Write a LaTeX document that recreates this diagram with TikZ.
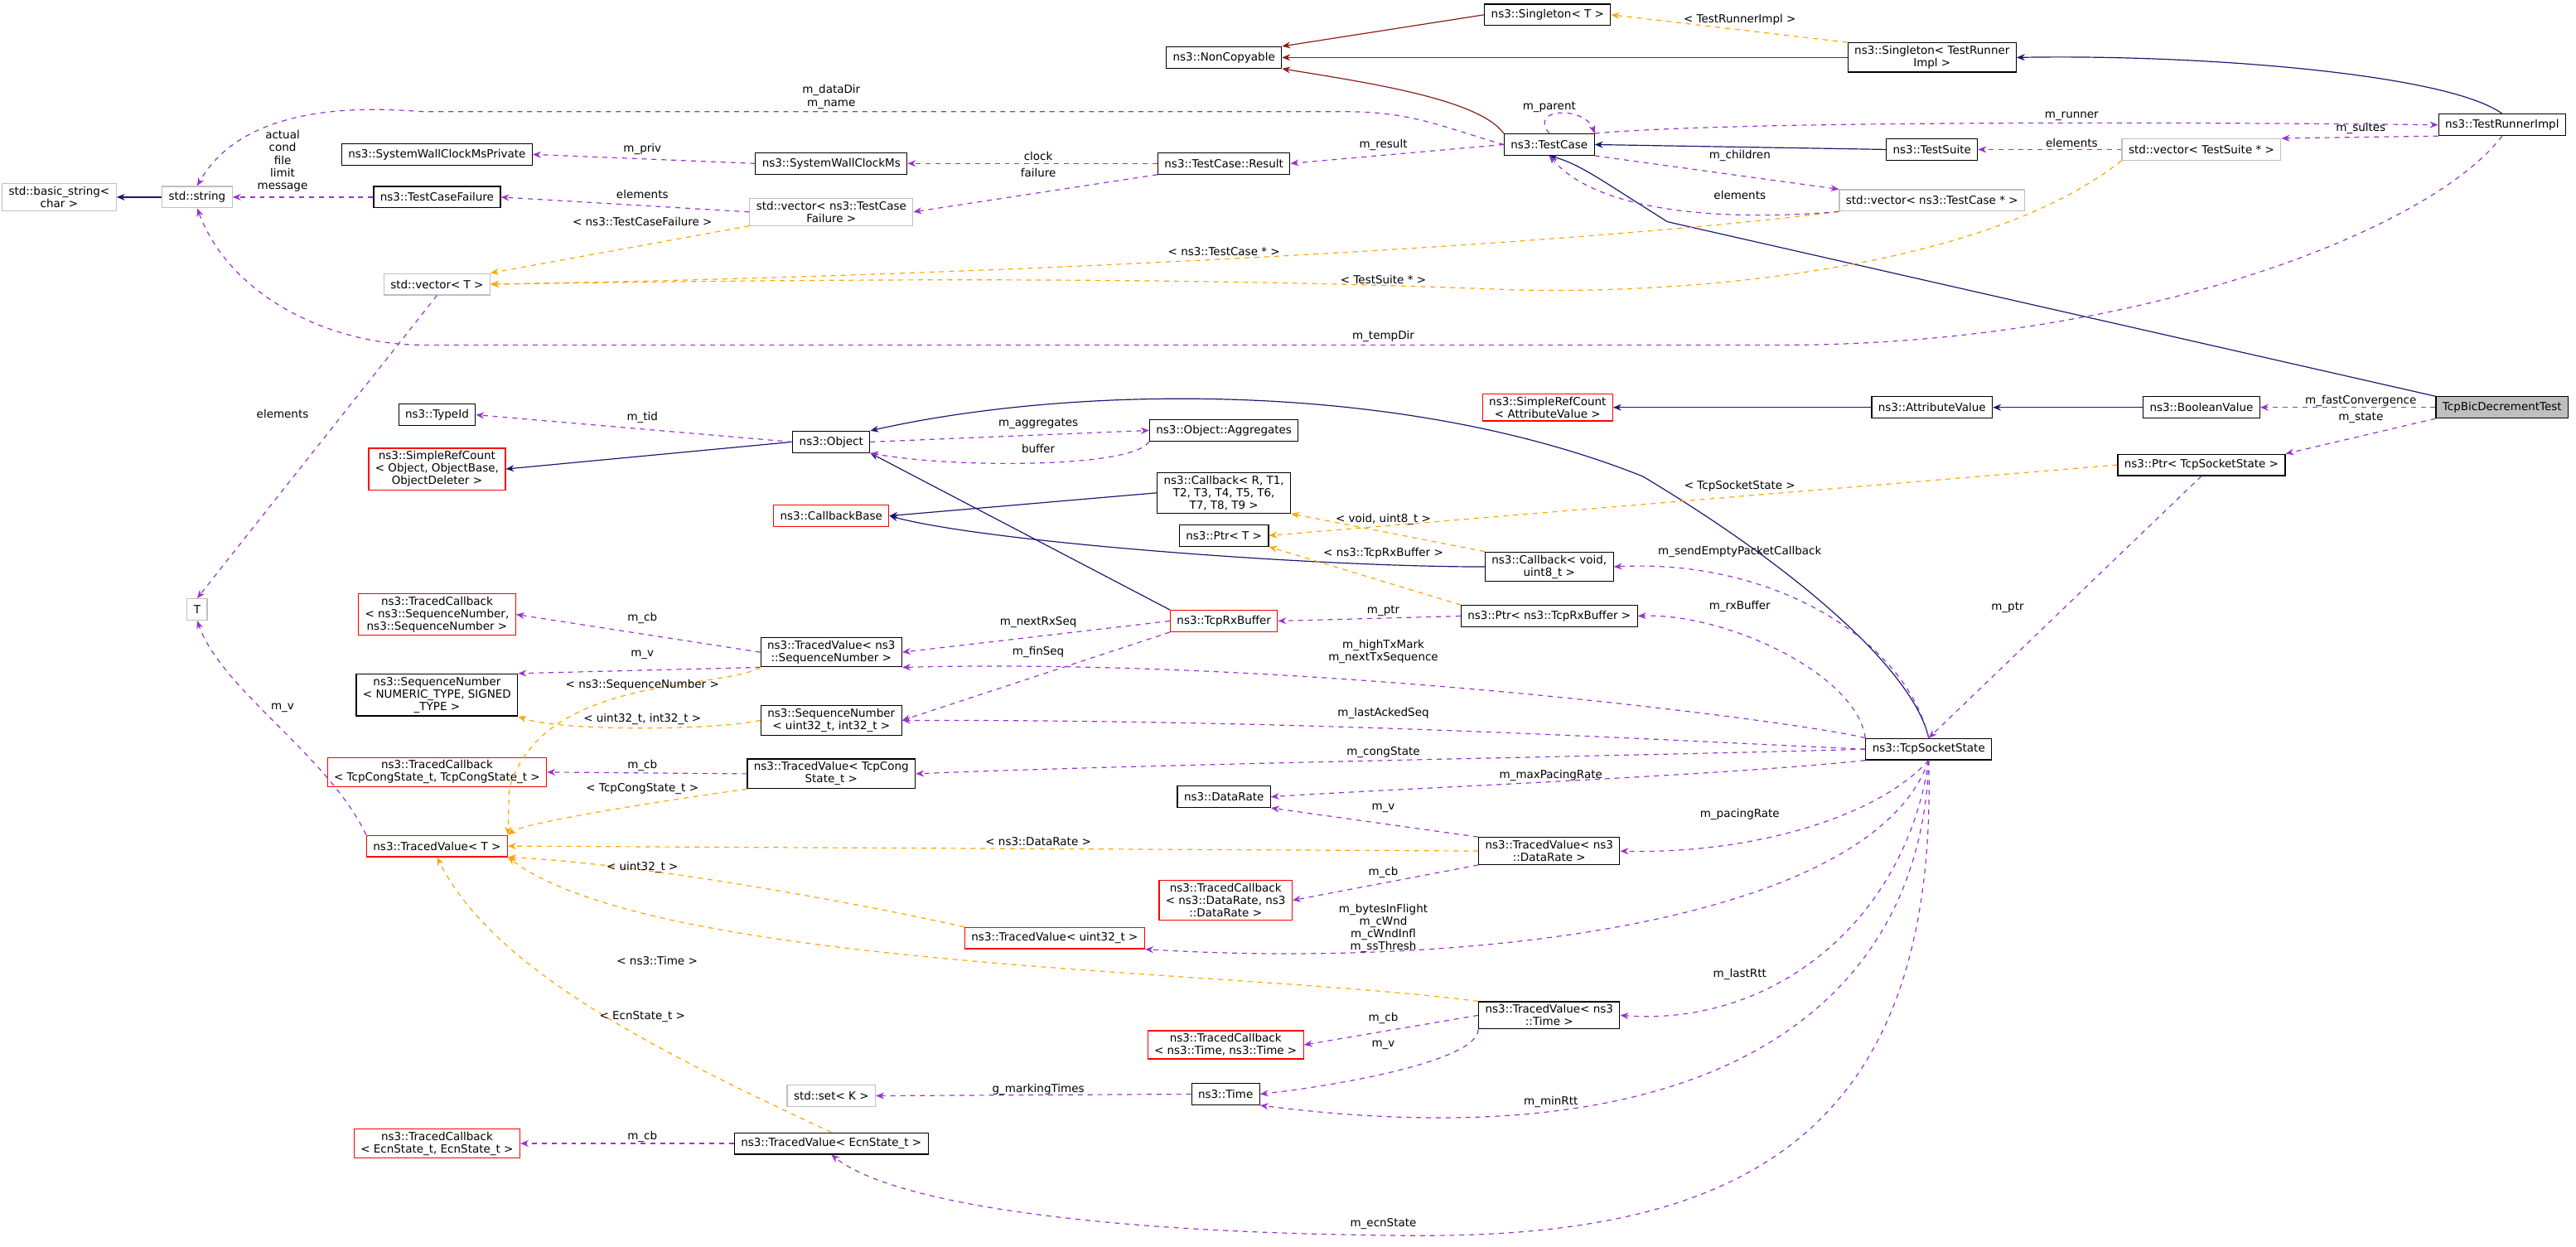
\documentclass[tikz,border=0pt]{standalone}
\usepackage{fontspec}
\setmainfont{DejaVu Sans}
\usetikzlibrary{arrows.meta}
\definecolor{inhc}{HTML}{191970}
\definecolor{ncc}{HTML}{8B1A1A}
\definecolor{usec}{HTML}{9A32CD}
\definecolor{tmc}{HTML}{FFA500}
\definecolor{grayb}{HTML}{BFBFBF}
\begin{document}
\begin{tikzpicture}[x=1pt,y=-1pt,
  every node/.style={font=\fontsize{6.8}{7.6}\selectfont},
  cls/.style={draw=black,fill=white,inner xsep=4pt,inner ysep=1.8pt,minimum height=13pt,align=center,line width=0.6pt},
  rcls/.style={cls,draw=red},
  gcls/.style={cls,draw=grayb},
  lbl/.style={inner sep=0.5pt,align=center},
  tip/.style={-{Stealth[length=5pt,width=4pt]}},
  inh/.style={tip,draw=inhc,line width=0.6pt},
  ncp/.style={tip,draw=ncc,line width=0.6pt},
  use/.style={tip,draw=usec,dashed,line width=0.6pt},
  tmpl/.style={tip,draw=tmc,dashed,line width=0.6pt}]
\useasboundingbox (0,0) rectangle (1568,759);
% nodes
\node[cls] (sgT) at (942,9) {ns3::Singleton< T >};
\node[cls] (nonc) at (745,35) {ns3::NonCopyable};
\node[cls] (sgTR) at (1176,35) {ns3::Singleton< TestRunner\\Impl >};
\node[cls] (tri) at (1523,76) {ns3::TestRunnerImpl};
\node[cls] (tc) at (943,88) {ns3::TestCase};
\node[cls] (ts) at (1176,91) {ns3::TestSuite};
\node[gcls] (vts) at (1340,91) {std::vector< TestSuite * >};
\node[cls] (tcr) at (745,99.5) {ns3::TestCase::Result};
\node[cls] (swc) at (506,99.5) {ns3::SystemWallClockMs};
\node[cls] (swcp) at (266,94) {ns3::SystemWallClockMsPrivate};
\node[gcls] (bstr) at (36,120) {std::basic\_string<\\char >};
\node[gcls] (str) at (120,120) {std::string};
\node[cls] (tcf) at (266,120) {ns3::TestCaseFailure};
\node[gcls] (vtcf) at (506,129) {std::vector< ns3::TestCase\\Failure >};
\node[gcls] (vtc) at (1176,122) {std::vector< ns3::TestCase * >};
\node[gcls] (vT) at (266,173) {std::vector< T >};
\node[cls] (tid) at (266,252.5) {ns3::TypeId};
\node[rcls] (srco) at (266,285.5) {ns3::SimpleRefCount\\< Object, ObjectBase,\\ObjectDeleter >};
\node[cls] (obj) at (506,269) {ns3::Object};
\node[cls] (agg) at (745,262) {ns3::Object::Aggregates};
\node[rcls] (srca) at (942,248) {ns3::SimpleRefCount\\< AttributeValue >};
\node[cls] (av) at (1176,248) {ns3::AttributeValue};
\node[cls] (bv) at (1340,248) {ns3::BooleanValue};
\node[cls,fill=grayb] (bic) at (1523,248) {TcpBicDecrementTest};
\node[cls] (ptss) at (1340,283) {ns3::Ptr< TcpSocketState >};
\node[cls] (cbr) at (745,300) {ns3::Callback< R, T1,\\T2, T3, T4, T5, T6,\\T7, T8, T9 >};
\node[rcls] (cbb) at (506,314) {ns3::CallbackBase};
\node[cls] (ptrT) at (745,326) {ns3::Ptr< T >};
\node[cls] (cbv) at (943,345) {ns3::Callback< void,\\uint8\_t >};
\node[gcls] (T) at (120,371) {T};
\node[rcls] (tcsn) at (266,374) {ns3::TracedCallback\\< ns3::SequenceNumber,\\ns3::SequenceNumber >};
\node[cls] (tvsn) at (506,397) {ns3::TracedValue< ns3\\::SequenceNumber >};
\node[rcls] (rxb) at (745,378) {ns3::TcpRxBuffer};
\node[cls] (prxb) at (943,375) {ns3::Ptr< ns3::TcpRxBuffer >};
\node[cls] (snN) at (266,423) {ns3::SequenceNumber\\< NUMERIC\_TYPE, SIGNED\\\_TYPE >};
\node[cls] (sn32) at (506,438.5) {ns3::SequenceNumber\\< uint32\_t, int32\_t >};
\node[rcls] (tccs) at (266,470) {ns3::TracedCallback\\< TcpCongState\_t, TcpCongState\_t >};
\node[cls] (tvcs) at (506,471) {ns3::TracedValue< TcpCong\\State\_t >};
\node[cls] (tss) at (1174,456) {ns3::TcpSocketState};
\node[cls] (dr) at (745,485) {ns3::DataRate};
\node[rcls] (tvT) at (266,515) {ns3::TracedValue< T >};
\node[cls] (tvdr) at (943,518) {ns3::TracedValue< ns3\\::DataRate >};
\node[rcls] (tcdr) at (746,548) {ns3::TracedCallback\\< ns3::DataRate, ns3\\::DataRate >};
\node[rcls] (tvu) at (642,571) {ns3::TracedValue< uint32\_t >};
\node[cls] (tvt) at (943,618) {ns3::TracedValue< ns3\\::Time >};
\node[rcls] (tct) at (746,636) {ns3::TracedCallback\\< ns3::Time, ns3::Time >};
\node[gcls] (setK) at (506,667) {std::set< K >};
\node[cls] (time) at (746,666) {ns3::Time};
\node[rcls] (tcecn) at (266,696) {ns3::TracedCallback\\< EcnState\_t, EcnState\_t >};
\node[cls] (tvecn) at (506,696) {ns3::TracedValue< EcnState\_t >};
% inheritance
\draw[inh] (str.west) -- (bstr.east);
\draw[inh] (ts.west) -- (tc.east);
\draw[inh] (bic.north west) -- (1015,135) .. controls (975,110) and (962,100) .. (tc.south);
\draw[inh] (tri.north) .. controls (1490,45) and (1340,33) .. (sgTR.east);
\draw[inh] (av.west) -- (srca.east);
\draw[inh] (bv.west) -- (av.east);
\draw[inh] (obj.west) -- (srco.east);
\draw[inh] (tss.north) .. controls (1165,410) and (1100,350) .. (1000,290) .. controls (850,230) and (650,235) .. (obj.north east);
\draw[inh] (rxb.north west) -- (obj.south east);
\draw[inh] (cbr.west) -- (cbb.east);
\draw[inh] (cbv.west) .. controls (800,345) and (600,330) .. (cbb.east);
\draw[ncp] (sgT.west) -- (nonc.north east);
\draw[ncp] (sgTR.west) -- (nonc.east);
\draw[ncp] (tc.north west) .. controls (900,60) and (830,50) .. (nonc.south east);
% templates
\draw[tmpl] (sgTR.north west) -- (sgT.east);
\node[lbl] at (1059,12) {< TestRunnerImpl >};
\draw[tmpl] (vtcf.south west) -- (vT.north east);
\node[lbl] at (391,135) {< ns3::TestCaseFailure >};
\draw[tmpl] (vtc.south west) .. controls (950,150) and (600,168) .. (vT.east);
\node[lbl] at (745,153) {< ns3::TestCase * >};
\draw[tmpl] (vts.south west) .. controls (1200,170) and (1000,180) .. (910,176) .. controls (700,168) and (500,170) .. (vT.east);
\node[lbl] at (842,170) {< TestSuite * >};
\draw[tmpl] (ptss.west) -- (ptrT.east);
\node[lbl] at (1059,296) {< TcpSocketState >};
\draw[tmpl] (prxb.north west) -- (ptrT.south east);
\node[lbl] at (842,337) {< ns3::TcpRxBuffer >};
\draw[tmpl] (cbv.north west) -- (cbr.south east);
\node[lbl] at (842,316) {< void, uint8\_t >};
\draw[tmpl] (sn32.west) .. controls (430,445) and (340,445) .. (snN.south east);
\node[lbl] at (391,438) {< uint32\_t, int32\_t >};
\draw[tmpl] (tvsn.south west) .. controls (440,420) and (330,410) .. (310,480) -- (tvT.north east);
\node[lbl] at (391,417) {< ns3::SequenceNumber >};
\draw[tmpl] (tvcs.south west) .. controls (420,485) and (320,500) .. (tvT.north east);
\node[lbl] at (391,480) {< TcpCongState\_t >};
\draw[tmpl] (tvdr.west) -- (tvT.east);
\node[lbl] at (632,512) {< ns3::DataRate >};
\draw[tmpl] (tvu.north west) .. controls (500,545) and (380,525) .. (tvT.south east);
\node[lbl] at (391,528) {< uint32\_t >};
\draw[tmpl] (tvt.north west) .. controls (750,590) and (400,590) .. (tvT.south east);
\node[lbl] at (400,585) {< ns3::Time >};
\draw[tmpl] (tvecn.north) .. controls (400,640) and (300,590) .. (tvT.south);
\node[lbl] at (391,619) {< EcnState\_t >};
% usage
\draw[use] (tcf.west) -- (str.east);
\node[lbl] at (172,98) {actual\\cond\\file\\limit\\message};
\draw[use] (tc.west) .. controls (880,78) and (860,68) .. (820,68) -- (258,68) .. controls (230,66) and (150,60) .. (str.north);
\node[lbl] at (506,59) {m\_dataDir\\m\_name};
\draw[use] (tri.south) .. controls (1480,140) and (1300,210) .. (1085,210) -- (258,210) .. controls (200,210) and (140,180) .. (str.south);
\node[lbl] at (842,205) {m\_tempDir};
\draw[use] (swc.west) -- (swcp.east);
\node[lbl] at (391,91) {m\_priv};
\draw[use] (tcr.west) -- (swc.east);
\node[lbl] at (632,95) {clock};
\draw[use] (tcr.south west) -- (vtcf.east);
\node[lbl] at (632,105) {failure};
\draw[use] (vtcf.west) -- (tcf.east);
\node[lbl] at (391,118.5) {elements};
\draw[use] (tc.west) -- (tcr.east);
\node[lbl] at (842,88) {m\_result};
\draw[use] (tc.north) .. controls (930,65) and (965,65) .. (tc.north east);
\node[lbl] at (943,65) {m\_parent};
\draw[use] (tc.north east) .. controls (1050,74) and (1300,74) .. (tri.west);
\node[lbl] at (1261,71) {m\_runner};
\draw[use] (tc.south east) -- (vtc.north west);
\node[lbl] at (1059,95) {m\_children};
\draw[use] (vtc.south west) .. controls (1060,134) and (975,132) .. (tc.south);
\node[lbl] at (1059,119) {elements};
\draw[use] (vts.west) -- (ts.east);
\node[lbl] at (1261,87) {elements};
\draw[use] (tri.south west) -- (vts.north east);
\node[lbl] at (1437,78) {m\_suites};
\draw[use] (vT.south) -- (T.north);
\node[lbl] at (172,252) {elements};
\draw[use] (obj.west) -- (tid.east);
\node[lbl] at (391,254) {m\_tid};
\draw[use] (obj.east) -- (agg.west);
\node[lbl] at (632,258) {m\_aggregates};
\draw[use] (agg.south west) .. controls (690,285) and (580,285) .. (obj.south east);
\node[lbl] at (632,273) {buffer};
\draw[use] (bic.west) -- (bv.east);
\node[lbl] at (1437,244) {m\_fastConvergence};
\draw[use] (bic.south west) -- (ptss.north east);
\node[lbl] at (1437,254.5) {m\_state};
\draw[use] (ptss.south) -- (tss.north);
\node[lbl] at (1222,370) {m\_ptr};
\draw[use] (tss.north) .. controls (1160,390) and (1080,340) .. (cbv.east);
\node[lbl] at (1059,336) {m\_sendEmptyPacketCallback};
\draw[use] (tss.north west) .. controls (1130,410) and (1050,373) .. (prxb.east);
\node[lbl] at (1059,369) {m\_rxBuffer};
\draw[use] (prxb.west) -- (rxb.east);
\node[lbl] at (842,372) {m\_ptr};
\draw[use] (rxb.west) -- (tvsn.east);
\node[lbl] at (632,379) {m\_nextRxSeq};
\draw[use] (tss.north west) .. controls (1100,440) and (800,400) .. (tvsn.south east);
\node[lbl] at (842,396.5) {m\_highTxMark\\m\_nextTxSequence};
\draw[use] (rxb.south west) -- (sn32.east);
\node[lbl] at (632,397) {m\_finSeq};
\draw[use] (tss.west) .. controls (1000,450) and (800,438) .. (sn32.east);
\node[lbl] at (842,434) {m\_lastAckedSeq};
\draw[use] (tvsn.west) -- (tcsn.east);
\node[lbl] at (391,376) {m\_cb};
\draw[use] (tvsn.south west) -- (snN.north east);
\node[lbl] at (391,398.6) {m\_v};
\draw[use] (tvcs.west) -- (tccs.east);
\node[lbl] at (391,466) {m\_cb};
\draw[use] (tss.west) .. controls (1000,460) and (700,465) .. (tvcs.east);
\node[lbl] at (842,458) {m\_congState};
\draw[use] (tss.south west) .. controls (1050,472) and (850,480) .. (dr.east);
\node[lbl] at (944,472) {m\_maxPacingRate};
\draw[use] (tvdr.north west) -- (dr.south east);
\node[lbl] at (842,492) {m\_v};
\draw[use] (tss.south) .. controls (1140,500) and (1060,520) .. (tvdr.east);
\node[lbl] at (1059,495.6) {m\_pacingRate};
\draw[use] (tvdr.south west) -- (tcdr.east);
\node[lbl] at (842,531) {m\_cb};
\draw[use] (tss.south) .. controls (1140,560) and (900,590) .. (tvu.south east);
\node[lbl] at (842,565) {m\_bytesInFlight\\m\_cWnd\\m\_cWndInfl\\m\_ssThresh};
\draw[use] (tss.south) .. controls (1160,560) and (1080,625) .. (tvt.east);
\node[lbl] at (1059,593) {m\_lastRtt};
\draw[use] (tvt.west) -- (tct.east);
\node[lbl] at (842,620) {m\_cb};
\draw[use] (tvt.south west) .. controls (900,645) and (820,660) .. (time.east);
\node[lbl] at (842,636) {m\_v};
\draw[use] (tss.south) .. controls (1170,600) and (1060,710) .. (time.south east);
\node[lbl] at (944,671) {m\_minRtt};
\draw[use] (time.west) -- (setK.east);
\node[lbl] at (632,663) {g\_markingTimes};
\draw[use] (tvecn.west) -- (tcecn.east);
\node[lbl] at (391,692) {m\_cb};
\draw[use] (tss.south) .. controls (1180,700) and (1050,755) .. (850,752) .. controls (650,750) and (540,730) .. (tvecn.south);
\node[lbl] at (842,745) {m\_ecnState};
\draw[use] (tvT.north west) .. controls (200,460) and (135,420) .. (T.south);
\node[lbl] at (172,431) {m\_v};
\end{tikzpicture}
\end{document}
